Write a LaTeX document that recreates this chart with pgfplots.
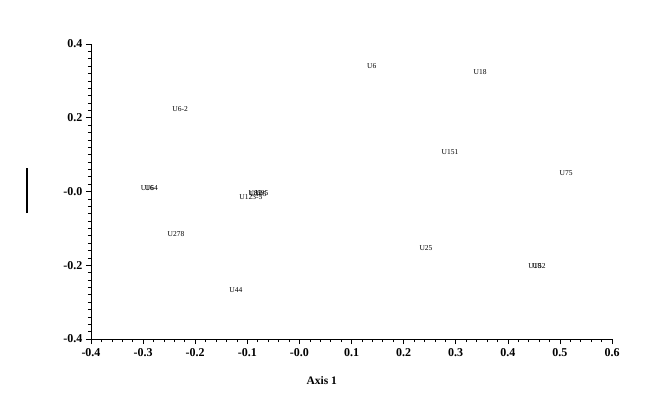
\documentclass[border=0pt]{standalone}
\usepackage{fontspec}
\setmainfont{Liberation Serif}
\usepackage{pgfplots}
\pgfplotsset{compat=1.18}
\begin{document}
\begin{tikzpicture}
\begin{axis}[
  scale only axis,
  width=521bp, height=295bp,
  xmin=-0.4, xmax=0.6, ymin=-0.4, ymax=0.4,
  axis x line*=bottom, axis y line*=left,
  tick align=outside,
  xtick={-0.4,-0.3,-0.2,-0.1,0,0.1,0.2,0.3,0.4,0.5,0.6},
  xticklabels={-0.4,-0.3,-0.2,-0.1,-0.0,0.1,0.2,0.3,0.4,0.5,0.6},
  ytick={-0.4,-0.2,0,0.2,0.4},
  yticklabels={-0.4,-0.2,-0.0,0.2,0.4},
  minor x tick num=4, minor y tick num=9,
  major tick length=5bp, minor tick length=3bp,
  every tick/.style={black, line width=0.6pt},
  axis line style={black, line width=0.6pt},
  ticklabel style={font=\fontsize{12bp}{14bp}\selectfont\bfseries},
  xticklabel style={yshift=-1bp},
  /pgf/number format/assume math mode=true,
  xlabel={Axis 1},
  xlabel style={font=\fontsize{11.5bp}{13bp}\selectfont\bfseries, at={(axis description cs:0.443,0)}, anchor=north, inner sep=0pt, yshift=-37bp},
  ylabel={\rule{45bp}{1.6bp}},
  ylabel style={at={(axis description cs:0,0.503)}, anchor=center, inner sep=0pt, yshift=64bp},
]
\addplot[only marks, mark=none, nodes near coords, point meta=explicit symbolic,
  nodes near coords style={anchor=center, inner sep=0pt, font=\fontsize{7.5bp}{9bp}\selectfont}]
  table[meta=label] {
x y label
0.139 0.340 U6
0.347 0.324 U18
-0.229 0.224 U6-2
0.289 0.107 U151
0.512 0.050 U75
-0.292 0.009 U16
-0.284 0.009 U64
-0.093 -0.015 U123-5
-0.079 -0.007 U105
-0.072 -0.004 U95
-0.085 -0.005 U85
-0.237 -0.115 U278
0.243 -0.153 U25
-0.122 -0.267 U44
0.452 -0.202 U18
0.460 -0.202 U52
};
\end{axis}
\path ([xshift=-91bp,yshift=-74bp]current axis.south west) rectangle ([xshift=52bp,yshift=44bp]current axis.north east);
\end{tikzpicture}
\end{document}
